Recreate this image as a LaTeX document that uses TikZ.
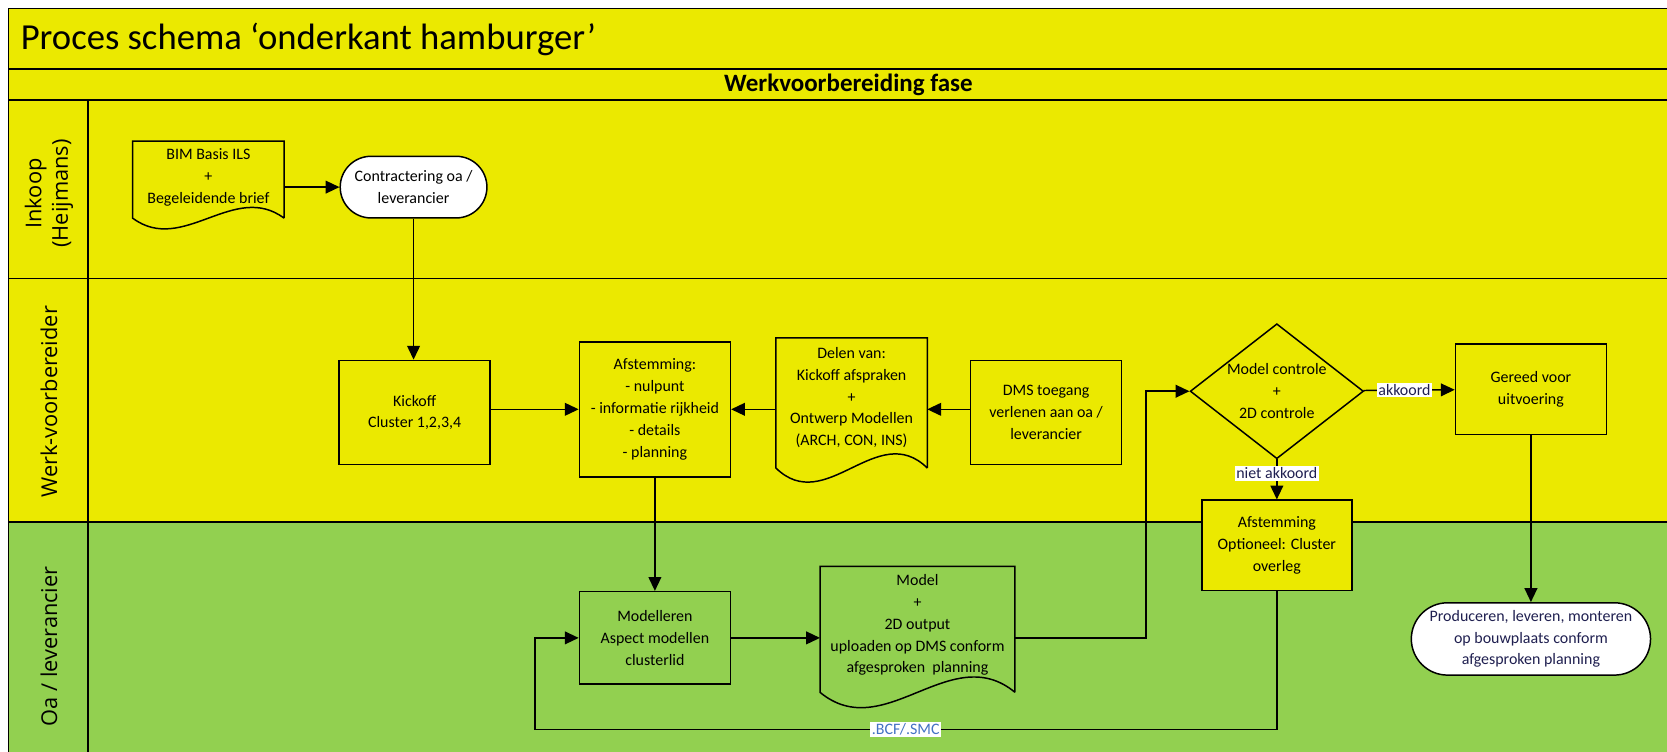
\documentclass[tikz,border=0pt]{standalone}
\usepackage{fontspec}
\setmainfont{Carlito}
\newfontfamily\lanefont{Open Sans}
\usetikzlibrary{positioning,shapes.geometric,arrows.meta,calc}

\definecolor{laneyellow}{RGB}{235,233,0}
\definecolor{lanegreen}{RGB}{146,208,80}
\definecolor{tagblue}{RGB}{68,114,196}
\definecolor{tagnavy}{RGB}{31,31,80}

\tikzset{
  every node/.style={font=\fontsize{15}{20.5}\selectfont, align=center},
  band/.style={draw, line width=1.4pt},
  procbox/.style={draw, line width=1.4pt, minimum width=142pt, minimum height=98pt},
  docbox/.style={minimum width=142pt, minimum height=64pt, inner sep=0pt},
  termbox/.style={draw, line width=1.4pt, fill=white, rounded corners=29pt,
    minimum width=138pt, minimum height=58pt},
  flow/.style={line width=1.4pt, -{Triangle[length=13pt,width=12pt]}},
  link/.style={line width=1.4pt},
  flowtag/.style={fill=white, inner sep=1.5pt, text=tagnavy},
  lanetag/.style={rotate=90, font=\lanefont\fontsize{20.5}{25}\selectfont}
}

\newcommand{\docedge}[3]{%
  \draw [link] ([yshift=-#3]#1.south east) -- (#1.north east) -- (#1.north west) -- ([yshift=-#3]#1.south west)
    .. controls ($(#1.south west)!0.33!(#1.south east) + (0,-#2) + (0,-#3)$)
    and ($(#1.south west)!0.67!(#1.south east) + (0,#2) + (0,-#3)$) .. ([yshift=-#3]#1.south east);}

\begin{document}
\begin{tikzpicture}[x=1pt, y=-1pt]
  \useasboundingbox (0,0) rectangle (1568,707);
  \clip (0,0) rectangle (1568,707);
  \draw [band, fill=laneyellow] (8,8) rectangle (1600,65);
  \draw [band, fill=laneyellow] (8,65) rectangle (1600,94);
  \draw [band, fill=laneyellow] (8,94) rectangle (1600,262);
  \draw [band, fill=laneyellow] (8,262) rectangle (1600,491);
  \draw [band, fill=lanegreen] (8,491) rectangle (1600,730);
  \draw [band] (83,94) -- (83,730);

  \node [anchor=west, font=\fontsize{34.5}{40}\selectfont] (title) at (16,37) {Proces schema ‘onderkant hamburger’};
  \node [font=\bfseries\fontsize{23.5}{26}\selectfont] (phase) at (798,80) {Werkvoorbereiding fase};
  \node [lanetag] (inkoop) at (46,182) {Inkoop\\(Heijmans)};
  \node [lanetag] (werk) at (46,378) {Werk-voorbereider};
  \node [lanetag] (oa) at (46,608) {Oa / leverancier};

  \node [docbox, minimum height=68pt] (bim) at (196,167) {BIM Basis ILS\\+\\Begeleidende brief};
  \node [termbox] (contr) at (389,176) {Contractering oa /\\leverancier};
  \node [procbox] (kick) at (390,388) {Kickoff\\Cluster 1,2,3,4};
  \node [procbox, minimum height=127pt] (afst) at (616,385) {Afstemming:\\- nulpunt\\- informatie rijkheid\\- details\\- planning};
  \node [docbox, minimum height=112pt] (delen) at (801,374) {Delen van:\\Kickoff afspraken\\+\\Ontwerp Modellen\\(ARCH, CON, INS)};
  \node [procbox] (dms) at (984,388) {DMS toegang\\verlenen aan oa /\\leverancier};
  \node [diamond, draw, line width=1.4pt, aspect=1.3, inner sep=0pt,
    minimum width=163pt, minimum height=127pt] (check) at (1201,368) {Model controle\\+\\2D controle};
  \node [procbox, minimum height=85pt] (ready) at (1440,366) {Gereed voor\\uitvoering};
  \node [procbox, minimum width=141pt, minimum height=85pt, fill=laneyellow] (overleg) at (1201,513) {Afstemming\\Optioneel: Cluster\\overleg};
  \node [procbox, minimum height=87pt] (model) at (616,600) {Modelleren\\Aspect modellen\\clusterlid};
  \node [docbox, minimum width=183pt, minimum height=110pt] (output) at (863,588) {Model\\+\\2D output\\uploaden op DMS conform\\afgesproken\ \ planning};
  \node [termbox, minimum width=225pt, minimum height=68pt, rounded corners=34pt, text=tagnavy] (produce) at (1440,601) {Produceren, leveren, monteren\\op bouwplaats conform\\afgesproken planning};

  \docedge{bim}{35pt}{4pt}
  \docedge{delen}{46pt}{10pt}
  \docedge{output}{50pt}{8pt}

  \coordinate (up) at (1078,600);
  \coordinate (lowright) at (1201,686);
  \coordinate (lowleft) at (503,686);

  \draw [flow] (bim.east |- contr) -- (contr);
  \draw [flow] (contr) -- (contr |- kick.north);
  \draw [flow] (kick.east |- afst) -- (afst);
  \draw [flow] (delen.west |- afst) -- (afst);
  \draw [flow] (dms.west |- afst) -- (delen.east |- afst);
  \draw [flow] (afst) -- (model);
  \draw [flow] (model) -- (output.west |- model);
  \draw [flow] (output.east |- model) -- (up) |- (check.west);
  \draw [flow] (check) -- node [flowtag, pos=0.45] {akkoord} (ready);
  \draw [flow] (check) -- node [flowtag, pos=0.35] {niet akkoord} (overleg);
  \draw [flow] (ready) -- (produce);
  \draw [flow] (overleg) -- (lowright) -- node [flowtag, text=tagblue] {.BCF/.SMC} (lowleft) |- (model);
\end{tikzpicture}
\end{document}
